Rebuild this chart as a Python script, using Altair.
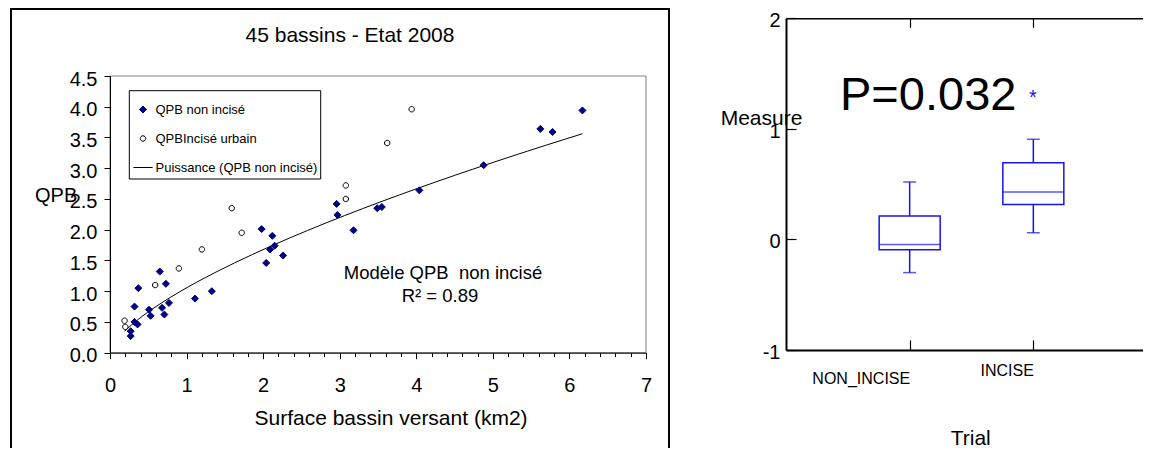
import altair as alt
import pandas as pd

FONT = "Liberation Sans"
W, H = 1135, 440
NAVY = "#000080"
BLUE = "#1414f0"

# ---------------- left panel data ----------------
S_NON = "QPB non incisé"
S_URB = "QPBIncisé urbain"
S_FIT = "Puissance (QPB non incisé)"
series_names = [S_NON, S_URB, S_FIT]

non_incise_x = [0.27, 0.27, 0.32, 0.32, 0.36, 0.37, 0.51, 0.53, 0.65, 0.68,
                0.71, 0.73, 0.77, 1.11, 1.33, 1.98, 2.04, 2.09, 2.12, 2.15,
                2.26, 2.96, 2.97, 3.18, 3.49, 3.55, 4.04, 4.88, 5.62, 5.78, 6.17]
non_incise_y = [0.27, 0.35, 0.75, 0.50, 0.46, 1.05, 0.70, 0.60, 1.32, 0.73,
                0.62, 1.12, 0.81, 0.88, 1.00, 2.01, 1.46, 1.68, 1.90, 1.74,
                1.58, 2.42, 2.24, 1.99, 2.35, 2.37, 2.64, 3.05, 3.64, 3.59, 3.94]
incise_x = [0.19, 0.20, 0.59, 0.90, 1.20, 1.59, 1.72, 3.08, 3.08, 3.62, 3.94]
incise_y = [0.52, 0.42, 1.10, 1.37, 1.68, 2.35, 1.95, 2.72, 2.50, 3.41, 3.96]

x_ticks = [0, 1, 2, 3, 4, 5, 6, 7]
x_minor_ticks = [0.2, 0.4, 0.6, 0.8, 1.2, 1.4, 1.6, 1.8, 2.2, 2.4, 2.6, 2.8,
                 3.2, 3.4, 3.6, 3.8, 4.2, 4.4, 4.6, 4.8, 5.2, 5.4, 5.6, 5.8,
                 6.2, 6.4, 6.6, 6.8]
y_ticks = [0.0, 0.5, 1.0, 1.5, 2.0, 2.5, 3.0, 3.5, 4.0, 4.5]

TITLE = "45 bassins - Etat 2008"
X_TITLE = "Surface bassin versant (km2)"
Y_TITLE = "QPB"
NOTE_1 = "Modèle QPB\u00a0 non incisé"
NOTE_2 = "R² = 0.89"

# ---------------- right panel data ----------------
trial = ["NON_INCISE", "INCISE"]
whisker_low = [-0.30, 0.06]
q1 = [-0.094, 0.316]
median = [-0.045, 0.43]
q3 = [0.213, 0.693]
whisker_high = [0.52, 0.907]
measure_ticks = [-1, 0, 1, 2]
P_TEXT = "P=0.032"
STAR = "*"
R_Y_TITLE = "Measure"
R_X_TITLE = "Trial"

# ---------------- tables ----------------
df_pts = pd.DataFrame({
    "x": non_incise_x + incise_x,
    "y": non_incise_y + incise_y,
    "series": [S_NON] * len(non_incise_x) + [S_URB] * len(incise_x),
})
df_box = pd.DataFrame({"trial": trial, "lo": whisker_low, "q1": q1,
                       "med": median, "q3": q3, "hi": whisker_high})
one = pd.DataFrame({"a": [0]})

# ---------------- left panel ----------------
lx = alt.Scale(domain=[0, 7], range=[102, 638], nice=False, zero=False)
ly = alt.Scale(domain=[0, 4.5], range=[344.7, 68], nice=False, zero=False)

common_axis = dict(grid=False, title=None, labelFont=FONT, labelColor="black",
                   tickColor="black", domainColor="black", zindex=1)

ax_y_major = alt.Axis(orient="left", offset=-102, values=y_ticks, format=".1f",
                      labelFontSize=20, tickSize=6, labelPadding=7, labelOffset=3,
                      domainWidth=1, tickWidth=1, labelOverlap=False, **common_axis)
ax_x_major = alt.Axis(orient="bottom", offset=-(H - 344.7), values=x_ticks, format="d",
                      labelFontSize=20, tickSize=6, labelPadding=17, labelFlush=False,
                      labelOverlap=False, domainWidth=1, tickWidth=1, **common_axis)
ax_x_minor = alt.Axis(orient="bottom", offset=-(H - 344.7), values=x_minor_ticks,
                      labels=False, domain=False, tickSize=4, tickWidth=1, **common_axis)

DIAMOND = "M-1,0L0,-1L1,0L0,1Z"
CIRCLE = "M0.78,0A0.78,0.78,0,1,1,-0.78,0A0.78,0.78,0,1,1,0.78,0Z"
LINE = "M-2.75,0L2.75,0"

shape_scale = alt.Scale(domain=series_names, range=[DIAMOND, CIRCLE, LINE])
fill_scale = alt.Scale(domain=series_names, range=[NAVY, "#ffffff", "#000000"])
stroke_scale = alt.Scale(domain=series_names, range=[NAVY, "#000000", "#000000"])

legend = alt.Legend(title=None, orient="none", legendX=128.5, legendY=95,
                    labelFont=FONT, labelFontSize=13, labelColor="black",
                    labelLimit=300, symbolSize=49, symbolStrokeWidth=1, rowPadding=15,
                    labelOffset=6, padding=0)

plot_frame = alt.Chart(one).mark_rect(filled=False, stroke="#808080", strokeWidth=1).encode(
    x=alt.XDatum(0, type="quantitative", scale=lx, axis=ax_x_minor),
    x2=alt.X2Datum(7),
    y=alt.YDatum(0, type="quantitative", scale=ly, axis=None),
    y2=alt.Y2Datum(4.5),
)

fit = alt.Chart(df_pts).transform_filter(
    alt.datum.series == S_NON
).transform_regression(
    "x", "y", method="pow", extent=[min(incise_x + non_incise_x), max(non_incise_x)]
).transform_calculate(
    series=f"'{S_FIT}'"
).mark_line(strokeWidth=1).encode(
    x=alt.X("x:Q", scale=lx, axis=None),
    y=alt.Y("y:Q", scale=ly, axis=None),
    stroke=alt.Stroke("series:N", scale=stroke_scale, legend=legend),
)

pts = alt.Chart(df_pts).mark_point(filled=True, size=49, strokeWidth=1, opacity=1).encode(
    x=alt.X("x:Q", scale=lx, axis=ax_x_major),
    y=alt.Y("y:Q", scale=ly, axis=ax_y_major),
    shape=alt.Shape("series:N", scale=shape_scale, legend=legend),
    fill=alt.Fill("series:N", scale=fill_scale, legend=legend),
    stroke=alt.Stroke("series:N", scale=stroke_scale, legend=legend),
)

left = alt.layer(plot_frame, fit, pts).resolve_axis(x="independent", y="independent")

# ---------------- right panel ----------------
rx = alt.Scale(type="point", domain=trial, range=[778, 1149], padding=1)
ry = alt.Scale(domain=[-1, 2], range=[342, 10.3], nice=False, zero=False)

ax_ry_labels = alt.Axis(orient="left", offset=-778, values=measure_ticks,
                        labelExpr="'' + datum.value",
                        labelFontSize=20, tickSize=0, labelPadding=6, labelOffset=2.5,
                        domainWidth=2, **common_axis)
ax_ry_ticks = alt.Axis(orient="right", offset=778 - W, values=measure_ticks, labels=False,
                       domain=False, tickSize=10, tickWidth=1.2, **common_axis)
ax_rx_labels = alt.Axis(orient="bottom", offset=342 - H, labelFontSize=16, labelAngle=0,
                        labelAlign="right",
                        labelBaseline=alt.condition("datum.value == 'NON_INCISE'",
                                                    alt.value("top"), alt.value("middle")),
                        labelPadding=20, tickSize=0, domainWidth=2, **common_axis)
ax_rx_top = alt.Axis(orient="bottom", offset=10.3 - H, labels=False, tickSize=9,
                     tickWidth=1.2, domainWidth=1.5, **common_axis)
ax_rx_bottom = alt.Axis(orient="top", offset=-342, labels=False, domain=False,
                        tickSize=10, tickWidth=1.2, **common_axis)

box = alt.Chart(df_box).mark_bar(size=61, fill="white", stroke=BLUE, strokeWidth=1.5).encode(
    x=alt.X("trial:N", scale=rx, axis=ax_rx_labels),
    y=alt.Y("q1:Q", scale=ry, axis=ax_ry_labels),
    y2="q3:Q",
)
whisk_up = alt.Chart(df_box).mark_rule(color=BLUE, strokeWidth=1.5).encode(
    x=alt.X("trial:N", scale=rx, axis=ax_rx_top),
    y=alt.Y("q3:Q", scale=ry, axis=ax_ry_ticks),
    y2="hi:Q",
)
whisk_down = alt.Chart(df_box).mark_rule(color=BLUE, strokeWidth=1.5).encode(
    x=alt.X("trial:N", scale=rx, axis=ax_rx_bottom),
    y=alt.Y("lo:Q", scale=ry, axis=None),
    y2="q1:Q",
)
cap_hi = alt.Chart(df_box).mark_tick(size=13, thickness=1.5, color=BLUE).encode(
    x=alt.X("trial:N", scale=rx, axis=None), y=alt.Y("hi:Q", scale=ry, axis=None))
cap_lo = alt.Chart(df_box).mark_tick(size=13, thickness=1.5, color=BLUE).encode(
    x=alt.X("trial:N", scale=rx, axis=None), y=alt.Y("lo:Q", scale=ry, axis=None))
med = alt.Chart(df_box).mark_tick(size=61, thickness=1.5, color=BLUE).encode(
    x=alt.X("trial:N", scale=rx, axis=None), y=alt.Y("med:Q", scale=ry, axis=None))

right = alt.layer(box, whisk_up, whisk_down, cap_hi, cap_lo, med).resolve_axis(
    x="independent", y="independent")


# ---------------- decorations / texts ----------------
def txt(s, x, y, size, align="center", baseline="middle", color="black"):
    return alt.Chart(pd.DataFrame({"t": [s]})).mark_text(
        font=FONT, fontSize=size, align=align, baseline=baseline, color=color
    ).encode(text="t:N", x=alt.value(x), y=alt.value(y))


outer_frame = alt.Chart(one).mark_rect(filled=False, stroke="black", strokeWidth=2).encode(
    x=alt.value(3), x2=alt.value(661), y=alt.value(1), y2=alt.value(480))
legend_box = alt.Chart(one).mark_rect(fill="white", stroke="black", strokeWidth=1).encode(
    x=alt.value(121.3), x2=alt.value(312.7), y=alt.value(82.7), y2=alt.value(171))

texts = [
    txt(TITLE, 342, 28, 21),
    txt(Y_TITLE, 27, 188, 20, align="left"),
    txt(X_TITLE, 383, 411, 21),
    txt(NOTE_1, 435, 265, 18.5),
    txt(NOTE_2, 432, 288, 18.5),
    txt(P_TEXT, 832, 102, 47, align="left", baseline="alphabetic"),
    txt(STAR, 1025, 96, 20, baseline="alphabetic", color=BLUE),
    txt(R_Y_TITLE, 712.7, 111, 21, align="left"),
    txt(R_X_TITLE, 962.7, 431, 21),
]

chart = alt.layer(outer_frame, left, legend_box, right, *texts).resolve_scale(
    x="independent", y="independent"
).properties(
    width=W, height=H, padding=0, autosize=alt.AutoSizeParams(type="none")
).configure(font=FONT).configure_view(stroke=None)

chart.save("out.html", embed_options={"renderer": "svg", "actions": False})
